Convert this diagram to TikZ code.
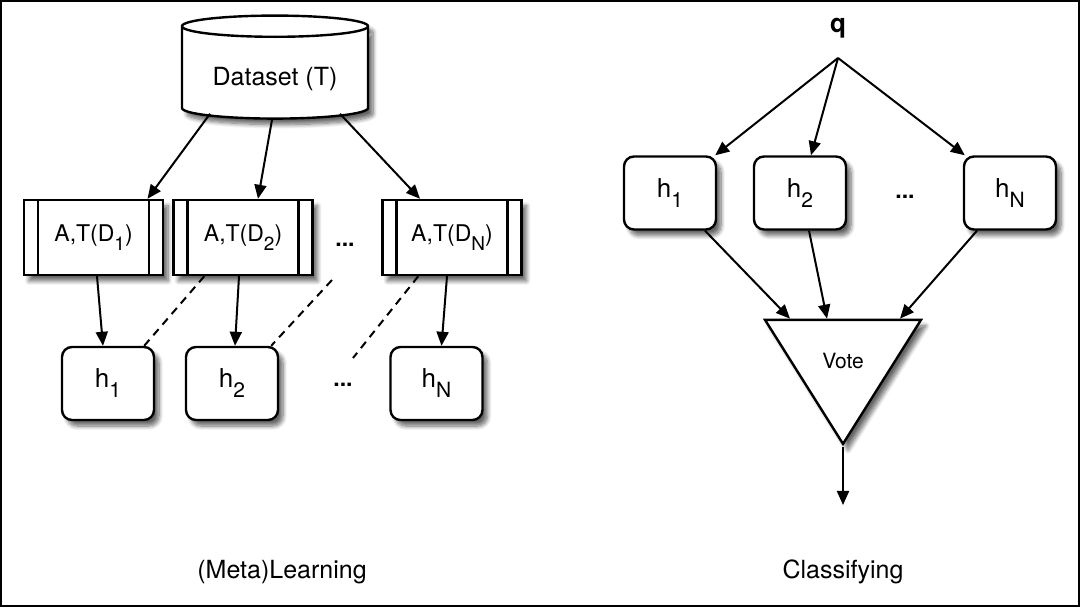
\documentclass[tikz,border=0pt]{standalone}
\usepackage{fontspec}
\setmainfont{TeX Gyre Heros}
\usetikzlibrary{shapes.geometric,arrows.meta,shadows.blur}
\newcommand{\lowidx}[1]{\raisebox{-4.5pt}{\fontsize{9.5}{9.5}\selectfont #1}}
\newcommand{\hidx}[1]{\raisebox{-5pt}{\fontsize{10.5}{10.5}\selectfont #1}}
\tikzset{
  every node/.style={font=\fontsize{11.5}{13}\selectfont},
  soft shadow/.style={blur shadow={shadow xshift=2.5pt,shadow yshift=-3pt,shadow blur steps=8,shadow opacity=60}},
  store/.style={draw,line width=1.2pt,fill=white,cylinder,shape border rotate=90,aspect=0.17,
    minimum width=93pt,minimum height=51.5pt,inner sep=0pt,soft shadow,font=\fontsize{12.5}{14}\selectfont},
  proc/.style={draw,line width=1.2pt,fill=white,minimum width=69.5pt,minimum height=37.5pt,inner sep=0pt,soft shadow,
    path picture={\draw[line width=1.2pt]
      ([xshift=7pt]path picture bounding box.north west) -- ([xshift=7pt]path picture bounding box.south west)
      ([xshift=-7pt]path picture bounding box.north east) -- ([xshift=-7pt]path picture bounding box.south east);}},
  hyp/.style={draw,line width=1.2pt,fill=white,rounded corners=5pt,minimum width=46pt,minimum height=36.5pt,inner sep=0pt,
    soft shadow,font=\fontsize{13}{14}\selectfont},
  voter/.style={draw,line width=1.2pt,fill=white,isosceles triangle,shape border rotate=-90,isosceles triangle stretches,
    minimum width=78pt,minimum height=62pt,inner sep=0pt,soft shadow,font=\fontsize{10.5}{12}\selectfont},
  arr/.style={-{Triangle[length=7pt,width=6pt]},line width=1pt},
  link/.style={line width=1pt,dash pattern=on 4pt off 3pt},
  caption/.style={font=\fontsize{12.5}{14}\selectfont},
}
\begin{document}
\begin{tikzpicture}[x=0.5pt,y=-0.5pt]
	\useasboundingbox (0,0) rectangle (1081,608);
	\draw[line width=0.75pt] (1,1) rectangle (1079,606);

	% (Meta)Learning
	\node[store] (data) at (275,73) {\raisebox{-6.5pt}[0pt][0pt]{Dataset (T)}};

	\node[proc] (alg1) at (93.5,237.5) {A,T(D\lowidx{1})};
	\node[proc] (alg2) at (243,237.5) {A,T(D\lowidx{2})};
	\node[proc] (algN) at (452,237.5) {A,T(D\lowidx{N})};
	\node (algdots) at (345,245) {\textbf{...}};

	\node[hyp] (hyp1) at (108,383.5) {h\hidx{1}};
	\node[hyp] (hyp2) at (232,383.5) {h\hidx{2}};
	\node[hyp] (hypN) at (436.5,383.5) {h\hidx{N}};
	\node (hypdots) at (343,385) {\textbf{...}};

	\draw[arr] ([xshift=-32.5pt,yshift=3pt]data.south) -- ([xshift=27pt]alg1.north);
	\draw[arr] ([xshift=-1.5pt]data.south) -- ([xshift=7.5pt]alg2.north);
	\draw[arr] ([xshift=32.5pt,yshift=3pt]data.south) -- ([xshift=-16pt]algN.north);

	\draw[arr] ([xshift=1.75pt]alg1.south) -- ([xshift=-2.5pt]hyp1.north);
	\draw[arr] ([xshift=-2pt]alg2.south) -- ([xshift=1.5pt]hyp2.north);
	\draw[arr] ([xshift=-2.5pt]algN.south) -- ([xshift=2.5pt]hypN.north);

	\coordinate (gap2) at (332,280);
	\coordinate (gapN) at (353,358);
	\draw[link] ([xshift=16pt]alg2.south west) -- ([xshift=-5.5pt]hyp1.north east);
	\draw[link] (gap2) -- ([xshift=-4pt]hyp2.north east);
	\draw[link] ([xshift=18.5pt]algN.south west) -- (gapN);

	\node[caption] (learn) at (282,572) {(Meta)Learning};

	% Classifying
	\node[font=\bfseries\fontsize{13}{14}\selectfont] (query) at (838,28) {q};
	\coordinate (qfoot) at (838,58);

	\node[hyp] (ch1) at (670,193) {h\hidx{1}};
	\node[hyp] (ch2) at (800,193) {h\hidx{2}};
	\node[hyp] (chN) at (1010,193) {h\hidx{N}};
	\node (chdots) at (905,197) {\textbf{...}};

	\draw[arr] (qfoot) -- ([xshift=-1pt]ch1.north east);
	\draw[arr] (qfoot) -- ([xshift=5.5pt]ch2.north);
	\draw[arr] (qfoot) -- ([xshift=1pt]chN.north west);

	\node[voter, anchor=apex] (vote) at (843,447) {\raisebox{-8.5pt}[0pt][0pt]{Vote}};

	\draw[arr] ([xshift=17.5pt]ch1.south) -- ([xshift=-26.5pt]vote.north);
	\draw[arr] ([xshift=4.5pt]ch2.south) -- ([xshift=-8pt]vote.north);
	\draw[arr] ([xshift=-16.5pt]chN.south) -- ([xshift=28.5pt]vote.north);

	\coordinate (result) at (843,505);
	\draw[arr] (vote.apex) -- (result);

	\node[caption] (classify) at (843,572) {Classifying};
\end{tikzpicture}
\end{document}
